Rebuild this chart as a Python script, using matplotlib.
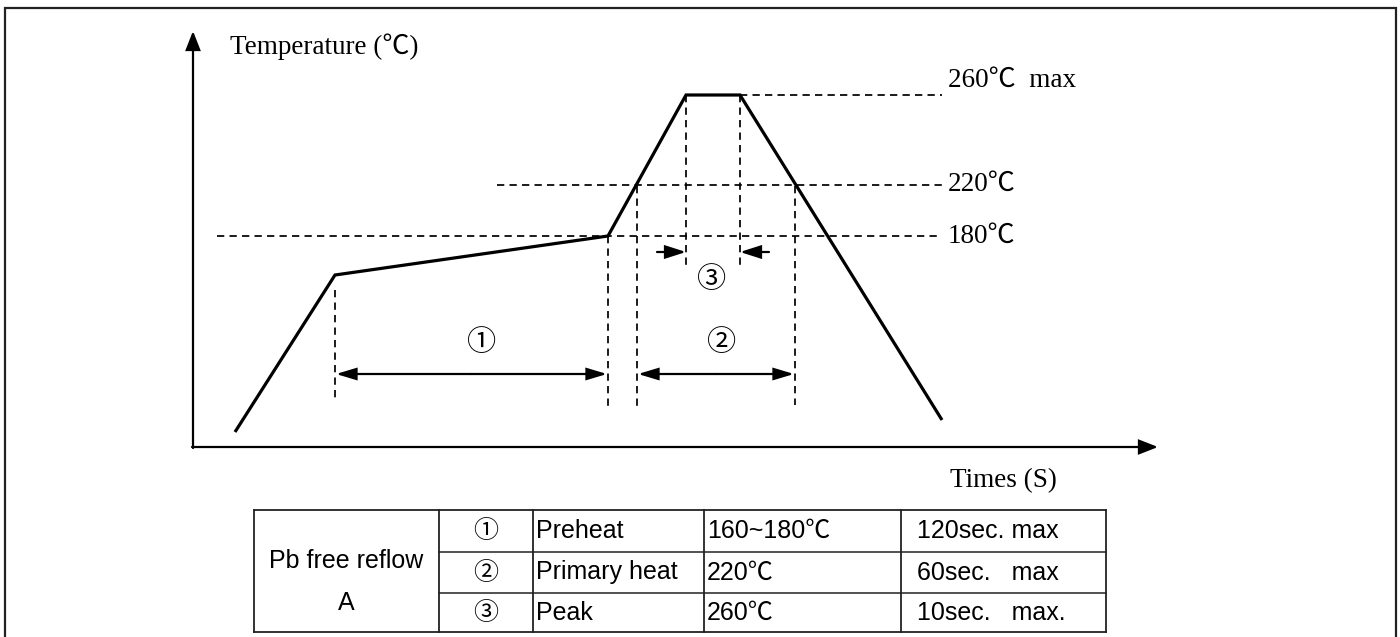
import matplotlib.pyplot as plt
from matplotlib.patches import FancyArrowPatch

# reflow profile, drawn on a pixel canvas (y grows downward)
profile_x = [235, 335, 608, 686, 740, 942]
profile_y = [432, 275, 236, 95, 95, 420]

# temperature guide levels
level_labels = ['260\u2103  max', '220\u2103', '180\u2103']
level_y = [95, 185, 236]
level_label_y = [80, 184, 236]
level_start = [740, 497, 217]
level_end = 942

# vertical guides
guide_x = [335, 608, 637, 686, 740, 795]
guide_top = [290, 236, 186, 95, 95, 186]
guide_bottom = [400, 410, 410, 268, 268, 405]

# dimension spans (zones 1 and 2) and the peak window (zone 3)
span_marks = ['\u2460', '\u2461']
span_left = [335, 637]
span_right = [608, 795]
span_label_x = [482, 722]
span_y = 374
peak_mark = '\u2462'
peak_left, peak_right = 686, 740

# table contents
table_group = ['Pb free reflow', 'A']
table_marks = ['\u2460', '\u2461', '\u2462']
table_stage = ['Preheat', 'Primary heat', 'Peak']
table_temp = ['160~180\u2103', '220\u2103', '260\u2103']
table_time = ['120sec. max', '60sec.   max', '10sec.   max.']
col_edges = [254, 439, 533, 704, 901, 1106]
row_edges = [510, 552, 593, 632]

SERIF = ['Liberation Serif', 'Noto Sans CJK JP']
SANS = ['Liberation Sans', 'Noto Sans CJK JP']
MARK = ['Noto Sans CJK JP', 'DejaVu Sans']


def arrow(ax, start, end, lw=1.6, hl=1.15, hw=0.45):
    ax.add_patch(FancyArrowPatch(start, end,
                                 arrowstyle=f'-|>,head_length={hl},head_width={hw}',
                                 mutation_scale=10, lw=lw, color='black',
                                 shrinkA=0, shrinkB=0, joinstyle='miter'))


fig = plt.figure(figsize=(14, 6.37), dpi=100)
ax = fig.add_axes([0, 0, 1, 1])
ax.set_xlim(0, 1400)
ax.set_ylim(637, 0)
ax.axis('off')

# outer frame (open at the bottom)
ax.plot([5, 5, 1396, 1396], [637, 8, 8, 637], color='#222222', lw=1.6,
        solid_joinstyle='miter')

# axes with arrow heads
arrow(ax, (193, 448), (193, 31))
arrow(ax, (192, 447), (1158, 447))
ax.text(230, 47, 'Temperature (\u2103)', family=SERIF, fontsize=19.5,
        va='center', ha='left')
ax.text(1003, 481, 'Times (S)', family=SERIF, fontsize=19.5,
        va='center', ha='center')

dash = (0, (4.2, 3.0))

for lab, y, ly, x0 in zip(level_labels, level_y, level_label_y, level_start):
    ax.plot([x0, level_end], [y, y], color='black', lw=1.25, ls=dash)
    ax.text(948, ly, lab, family=SERIF, fontsize=19.5, va='center', ha='left')

for x, y0, y1 in zip(guide_x, guide_top, guide_bottom):
    ax.plot([x, x], [y0, y1], color='black', lw=1.25, ls=dash)

ax.plot(profile_x, profile_y, color='black', lw=2.3, solid_joinstyle='miter',
        solid_capstyle='butt')

for m, x0, x1, lx in zip(span_marks, span_left, span_right, span_label_x):
    arrow(ax, ((x0 + x1) / 2, span_y), (x0 + 1, span_y), lw=1.6, hl=1.2, hw=0.36)
    arrow(ax, ((x0 + x1) / 2, span_y), (x1 - 1, span_y), lw=1.6, hl=1.2, hw=0.36)
    ax.text(lx, 343, m, family=MARK, fontsize=21, va='center', ha='center')

arrow(ax, (peak_left - 29, 252), (peak_left, 252), lw=1.6, hl=1.25, hw=0.4)
arrow(ax, (peak_right + 29, 252), (peak_right, 252), lw=1.6, hl=1.25, hw=0.4)
ax.text((peak_left + peak_right) / 2 - 1, 280, peak_mark, family=MARK,
        fontsize=21, va='center', ha='center')

# table grid
tc = '#222222'
ax.plot([col_edges[0], col_edges[-1]], [row_edges[0]] * 2, color=tc, lw=1.3)
ax.plot([col_edges[0], col_edges[-1]], [row_edges[-1]] * 2, color=tc, lw=1.3)
for y in row_edges[1:-1]:
    ax.plot([col_edges[1], col_edges[-1]], [y, y], color=tc, lw=1.1)
for x in col_edges:
    ax.plot([x, x], [row_edges[0], row_edges[-1]], color=tc, lw=1.3)

gx = (col_edges[0] + col_edges[1]) / 2
ax.text(gx, 561, table_group[0], family=SANS, fontsize=18, va='center', ha='center')
ax.text(gx, 603, table_group[1], family=SANS, fontsize=18, va='center', ha='center')

for i in range(3):
    yc = (row_edges[i] + row_edges[i + 1]) / 2
    ax.text((col_edges[1] + col_edges[2]) / 2, yc, table_marks[i], family=MARK,
            fontsize=18, va='center', ha='center')
    ax.text(col_edges[2] + 3, yc, table_stage[i], family=SANS, fontsize=18,
            va='center', ha='left')
    ax.text(col_edges[3] + 3, yc, table_temp[i], family=SANS, fontsize=18,
            va='center', ha='left')
    ax.text(col_edges[4] + 16, yc, table_time[i], family=SANS, fontsize=18,
            va='center', ha='left')

fig.savefig('out.png', dpi=100)
